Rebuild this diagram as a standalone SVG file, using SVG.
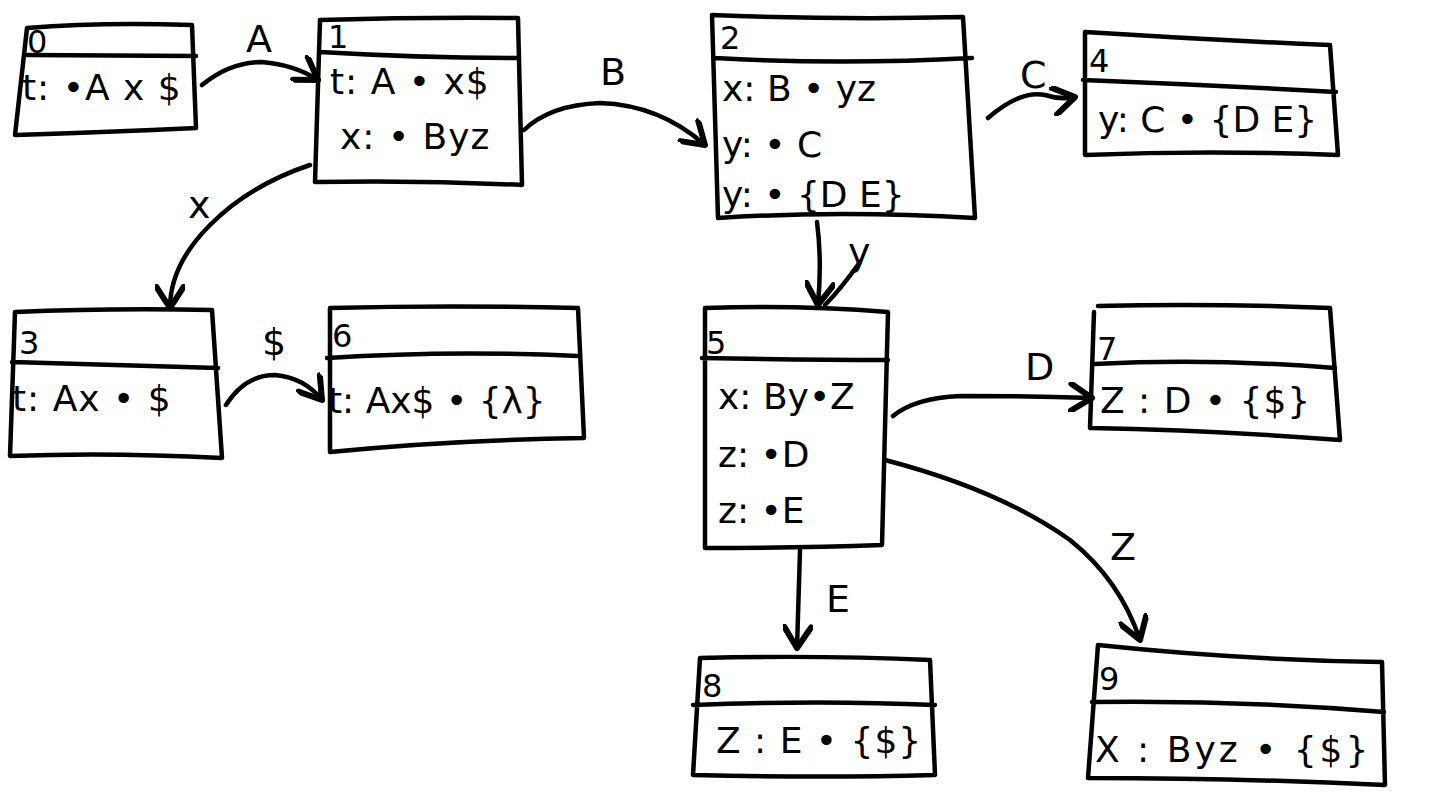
<svg xmlns="http://www.w3.org/2000/svg" width="1445" height="799" viewBox="0 0 1445 799">
<style>
.box{fill:none;stroke:#000;stroke-width:4.5;stroke-linejoin:round;stroke-linecap:round}
.conn{fill:none;stroke:#000;stroke-width:4.5;stroke-linecap:round}
.t{font-family:"DejaVu Sans","Liberation Sans",sans-serif;font-size:36px;fill:#000}
.n{font-family:"DejaVu Sans","Liberation Sans",sans-serif;font-size:32px;fill:#000}
.lbl{font-family:"DejaVu Sans","Liberation Sans",sans-serif;font-size:38px;fill:#000}
</style>
<defs>
<marker id="arr" markerUnits="userSpaceOnUse" markerWidth="30" markerHeight="30" refX="16" refY="10" orient="auto" viewBox="0 0 20 20">
<path d="M2,1 L16,10 L2,19" fill="none" stroke="#000" stroke-width="4" stroke-linecap="round" stroke-linejoin="round"/>
</marker>
</defs>
<rect width="1445" height="799" fill="#fff"/>

<g id="node0">
<path class="box" d="M27,28 Q100,22 192,25 L196,128 Q110,132 15,135 L27,28 M27,55 L196,56"/>
<text class="n" x="27" y="53">0</text>
<text class="t" x="22" y="100" letter-spacing="1">t: •A x $</text>
</g>

<g id="node1">
<path class="box" d="M320,20 Q420,17 518,18 L522,185 Q420,180 315,182 L320,20 M320,52 Q420,58 518,58"/>
<text class="n" x="328" y="48">1</text>
<text class="t" x="330" y="94" letter-spacing="1">t: A • x$</text>
<text class="t" x="340" y="149" letter-spacing="1">x: • Byz</text>
</g>

<g id="node2">
<path class="box" d="M712,15 Q840,20 963,17 L975,218 Q840,210 718,218 L712,15 M715,58 Q840,65 972,58"/>
<text class="n" x="720" y="49">2</text>
<text class="t" x="722" y="101">x: B • yz</text>
<text class="t" x="722" y="157">y: • C</text>
<text class="t" x="722" y="207">y: • {D E}</text>
</g>

<g id="node4">
<path class="box" d="M1085,32 Q1210,40 1330,45 L1338,155 Q1210,150 1085,155 L1085,32 M1083,80 Q1210,85 1336,92"/>
<text class="n" x="1089" y="72">4</text>
<text class="t" x="1098" y="132">y: C •  {D E}</text>
</g>

<g id="node3">
<path class="box" d="M15,312 Q110,308 212,310 L222,458 Q110,452 10,456 L15,312 M12,362 Q110,365 218,368"/>
<text class="n" x="19" y="354">3</text>
<text class="t" x="12" y="411" letter-spacing="1">t: Ax • $</text>
</g>

<g id="node6">
<path class="box" d="M330,308 Q450,305 578,308 L584,438 Q450,440 330,452 L330,308 M327,358 Q450,350 578,356"/>
<text class="n" x="332" y="347">6</text>
<text class="t" x="328" y="413">t: Ax$ • {λ}</text>
</g>

<g id="node5">
<path class="box" d="M705,308 Q800,305 888,312 L882,545 Q800,548 705,548 L705,308 M702,358 Q800,360 888,360"/>
<text class="n" x="706" y="354">5</text>
<text class="t" x="718" y="409">x: By•Z</text>
<text class="t" x="718" y="467">z: •D</text>
<text class="t" x="718" y="523">z: •E</text>
</g>

<g id="node7">
<path class="box" d="M1098,306 Q1210,303 1330,308 L1340,440 Q1210,430 1090,428 L1094,312 M1094,364 Q1210,358 1335,368"/>
<text class="n" x="1097" y="360">7</text>
<text class="t" x="1100" y="413" letter-spacing="1">Z : D •  {$}</text>
</g>

<g id="node8">
<path class="box" d="M700,658 Q820,655 930,660 L935,775 Q820,778 693,775 L700,658 M693,705 Q820,700 935,705"/>
<text class="n" x="702" y="697">8</text>
<text class="t" x="716" y="753" letter-spacing="1">Z : E •  {$}</text>
</g>

<g id="node9">
<path class="box" d="M1098,645 Q1240,660 1382,662 L1385,785 Q1240,778 1088,778 L1098,645 M1092,702 Q1240,700 1384,712"/>
<text class="n" x="1099" y="690">9</text>
<text class="t" x="1095" y="762" letter-spacing="3">X : Byz • {$}</text>
</g>

<g id="connectors">
<path class="conn" marker-end="url(#arr)" d="M202,85 Q230,62 262,62 Q295,65 318,80"/>
<path class="conn" marker-end="url(#arr)" d="M524,130 Q550,105 600,103 Q660,105 705,145"/>
<path class="conn" marker-end="url(#arr)" d="M988,118 Q1020,90 1045,95 Q1060,100 1075,97"/>
<path class="conn" marker-end="url(#arr)" d="M310,165 Q250,185 210,225 Q170,265 170,308"/>
<path class="conn" marker-end="url(#arr)" d="M226,405 Q245,375 275,375 Q305,378 322,400"/>
<path class="conn" marker-end="url(#arr)" d="M817,222 Q822,260 818,305"/>
<path class="conn" d="M860,262 Q840,290 825,305"/>
<path class="conn" marker-end="url(#arr)" d="M893,416 Q915,398 960,396 Q1030,396 1092,398"/>
<path class="conn" marker-end="url(#arr)" d="M885,460 Q1000,490 1070,540 Q1120,580 1140,640"/>
<path class="conn" marker-end="url(#arr)" d="M800,550 L797,648"/>
<text class="lbl" x="246" y="52">A</text>
<text class="lbl" x="600" y="85">B</text>
<text class="lbl" x="1020" y="88">C</text>
<text class="lbl" x="188" y="218">x</text>
<text class="lbl" x="262" y="355">$</text>
<text class="lbl" x="848" y="265">y</text>
<text class="lbl" x="1025" y="380">D</text>
<text class="lbl" x="1110" y="560">Z</text>
<text class="lbl" x="826" y="612">E</text>
</g>
</svg>
